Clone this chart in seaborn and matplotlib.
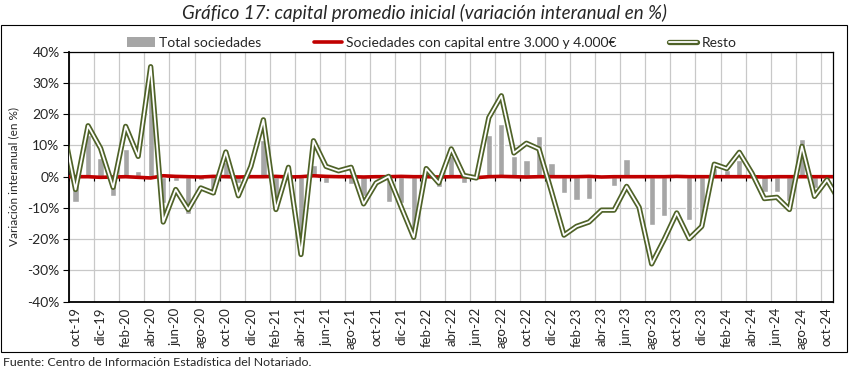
import matplotlib
matplotlib.use("Agg")
import numpy as np
import pandas as pd
import seaborn as sns
import matplotlib.pyplot as plt
import matplotlib.patheffects as pe
from matplotlib.lines import Line2D
from matplotlib.patches import Patch, Rectangle

sns.set_theme(style="white")
plt.rcParams['font.family'] = ['Lato', 'DejaVu Sans']

# meses oct-19 .. oct-24
meses_abr = ['ene', 'feb', 'mar', 'abr', 'may', 'jun', 'jul', 'ago', 'sep', 'oct', 'nov', 'dic']
meses = [f"{meses_abr[(9 + k) % 12]}-{19 + (9 + k) // 12}" for k in range(61)]

total = [-8.2, 13.4, 6.0, -6.3, 8.9, 1.9, 28.0, -8.4, -1.3, -11.8,
         -1.0, -5.8, 4.8, -2.0, 0.5, 11.8, -8.5, -1.0, -24.0, 3.8,
         -2.0, -0.5, -2.3, -6.3, -0.5, -8.0, -8.4, -17.5, 0.3, -3.4,
         6.5, -2.0, -0.5, 13.2, 16.8, 6.5, 5.4, 13.1, 4.4, -5.2,
         -7.6, -7.1, -0.3, -3.1, 5.7, -0.3, -15.3, -12.7, -0.3, -13.7,
         -15.0, 2.8, 2.2, 5.4, -0.5, -5.0, -5.0, -7.9, 12.0, -3.6,
         -1.5]

# series de lineas: sep-19 .. nov-24 (los extremos quedan recortados)
resto = [16.0,
         -4.1, 16.3, 9.1, -3.4, 16.1, 6.5, 35.2, -14.5, -4.1, -10.5,
         -3.6, -5.2, 7.9, -6.1, 3.3, 18.2, -10.5, 3.0, -24.9, 11.5,
         3.3, 1.9, 3.0, -8.7, -2.0, 0.1, -9.7, -19.4, 2.6, -2.0,
         8.9, 0.4, -0.4, 18.9, 25.9, 7.6, 10.7, 8.9, -4.7, -18.7,
         -15.9, -14.5, -10.7, -10.7, -3.1, -9.8, -27.9, -20.1, -11.6, -19.8,
         -15.9, 4.0, 2.6, 7.8, 1.2, -7.0, -6.6, -10.5, 9.7, -6.3,
         -1.0, -7.7]

capital_3000_4000 = [0.0,
                     0.0, 0.0, -0.2, -0.1, 0.0, -0.2, -0.4, 0.3, 0.1, 0.0,
                     -0.1, 0.1, 0.0, -0.1, 0.0, 0.0, 0.1, -0.1, 0.0, 0.3,
                     0.1, 0.0, 0.0, -0.1, 0.0, 0.0, 0.1, 0.0, 0.0, -0.1,
                     0.0, 0.0, -0.3, 0.0, 0.1, 0.0, -0.1, 0.0, 0.0, 0.0,
                     0.0, 0.1, -0.1, 0.0, 0.0, 0.0, 0.0, 0.0, 0.1, 0.0,
                     0.0, 0.0, 0.0, 0.0, 0.0, -0.1, 0.0, 0.0, 0.0, 0.0,
                     0.0, 0.0]

df = pd.DataFrame({'mes': meses, 'total': total})
pos_lineas = np.arange(-1, len(meses) + 1)

doble = [pe.Stroke(linewidth=3.8, foreground='#4F6228'), pe.Normal()]

fig = plt.figure(figsize=(8.5, 3.74), dpi=100)
ax = fig.add_axes([0.0815, 0.1933, 0.8988, 0.6685])

sns.barplot(data=df, x='mes', y='total', color='#A6A6A6', width=0.5,
            saturation=1, ax=ax, zorder=2)
sns.lineplot(x=pos_lineas, y=capital_3000_4000, color='#C00000', lw=2.6,
             ax=ax, zorder=3)
sns.lineplot(x=pos_lineas, y=resto, color='white', lw=1.3, ax=ax, zorder=4,
             path_effects=doble)

ax.set_xlim(-0.5, len(meses) - 0.5)
ax.set_ylim(-40, 40)
ax.set_yticks(range(-40, 41, 10))
ax.set_yticklabels([f"{v}%" for v in range(-40, 41, 10)], fontsize=10)
ax.set_xticks(range(0, len(meses), 2))
ax.set_xticklabels(meses[::2], rotation=90, fontsize=9.5)
ax.set_xticks(np.arange(-0.5, len(meses), 2), minor=True)
ax.tick_params(axis='x', which='both', length=0, pad=4)
ax.tick_params(axis='y', length=4, width=0.8, color='black', left=True, pad=3)
ax.grid(False)
ax.grid(axis='y', color='#C8C8C8', lw=0.9, zorder=0)
ax.grid(axis='x', which='minor', color='#C8C8C8', lw=0.9, zorder=0)
ax.set_axisbelow(True)
# marcas del eje de categorias sobre el 0
ax.vlines(np.arange(-0.5, len(meses), 2), -1.3, 0, color='black', lw=0.8, zorder=2.5)
for s in ax.spines.values():
    s.set_color('black')
    s.set_linewidth(0.9)
ax.spines['left'].set_linewidth(1.3)
ax.spines['bottom'].set_linewidth(1.3)
ax.set_xlabel('')
ax.set_ylabel('Variación interanual (en %)', fontsize=8.5, labelpad=6)

handles = [Patch(facecolor='#A6A6A6', edgecolor='none'),
           Line2D([], [], color='#C00000', lw=2.6),
           Line2D([], [], color='white', lw=1.3, path_effects=doble)]
labels = ['Total sociedades', 'Sociedades con capital entre 3.000 y 4.000€', 'Resto']
fig.legend(handles, labels, loc='center', bbox_to_anchor=(0.508, 0.885), ncol=3,
           frameon=False, fontsize=10, columnspacing=3.8, handlelength=2.0,
           handletextpad=0.3, handleheight=0.7)

fig.text(0.5, 0.965, 'Gráfico 17: capital promedio inicial (variación interanual en %)',
         ha='center', va='center', fontsize=13.5, style='italic')
fig.text(0.004, 0.032, 'Fuente: Centro de Información Estadística del Notariado.',
         ha='left', va='center', fontsize=8.9)
fig.add_artist(Rectangle((0.001, 0.058), 0.996, 0.875, transform=fig.transFigure,
                         fill=False, edgecolor='black', lw=0.8))

fig.savefig('out.png', dpi=100)
